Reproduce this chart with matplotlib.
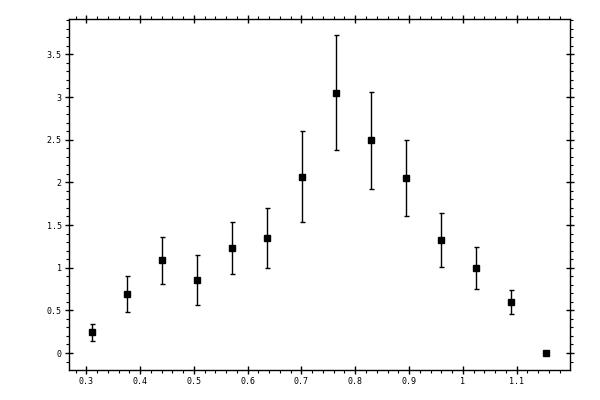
import matplotlib as mpl
mpl.use('Agg')
import matplotlib.pyplot as plt
from matplotlib.ticker import MultipleLocator, FuncFormatter

x_vals = [0.310, 0.375, 0.440, 0.506, 0.571, 0.636, 0.701,
          0.765, 0.830, 0.894, 0.959, 1.024, 1.090, 1.155]
y_vals = [0.243, 0.688, 1.086, 0.852, 1.227, 1.344, 2.059,
          3.043, 2.492, 2.047, 1.320, 0.992, 0.594, 0.0]
y_top = [0.336, 0.902, 1.356, 1.145, 1.535, 1.695, 2.598,
         3.723, 3.055, 2.500, 1.637, 1.238, 0.735, 0.0]
y_bot = [0.137, 0.477, 0.809, 0.562, 0.922, 0.992, 1.535,
         2.375, 1.918, 1.602, 1.004, 0.746, 0.457, 0.0]

err_lo = [y - b for y, b in zip(y_vals, y_bot)]
err_hi = [t - y for y, t in zip(y_vals, y_top)]

fig = plt.figure(figsize=(6, 4), dpi=100, facecolor='white')
ax = fig.add_axes([0.115, 0.075, 0.835, 0.8775])

ax.errorbar(x_vals, y_vals, yerr=[err_lo, err_hi], fmt='s', color='black',
            markersize=5, elinewidth=1.0, capsize=1.8, capthick=1.0)

ax.set_xlim(0.2675, 1.1995)
ax.set_ylim(-0.199, 3.914)

ax.xaxis.set_major_locator(MultipleLocator(0.1))
ax.xaxis.set_minor_locator(MultipleLocator(0.02))
ax.yaxis.set_major_locator(MultipleLocator(0.5))
ax.yaxis.set_minor_locator(MultipleLocator(0.1))
fmt = FuncFormatter(lambda v, p: '%g' % round(v, 3))
ax.xaxis.set_major_formatter(fmt)
ax.yaxis.set_major_formatter(fmt)

for side in ax.spines.values():
    side.set_linewidth(1.0)

ax.tick_params(which='major', direction='inout', length=5.5, width=1.0,
               top=True, right=True, labelsize=6, pad=2.5)
ax.tick_params(which='minor', direction='out', length=2.4, width=0.8,
               top=True, right=True)
for lab in ax.get_xticklabels() + ax.get_yticklabels():
    lab.set_family('DejaVu Sans Mono')

fig.savefig('out.png', dpi=100)
